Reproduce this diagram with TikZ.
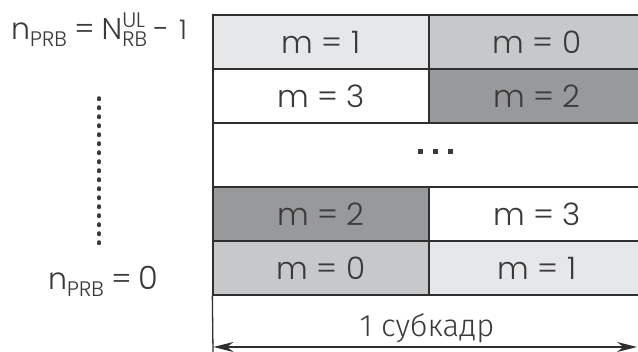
\documentclass[tikz,border=0pt]{standalone}
\usepackage{amsmath}
\usepackage{fontspec}
\setmainfont{Poppins Light}
\newfontfamily\cyrfont{Fira Sans Light}
\usetikzlibrary{arrows.meta,positioning}
\definecolor{celllight}{RGB}{230,231,233}
\definecolor{cellmid}{RGB}{199,200,202}
\definecolor{celldark}{RGB}{152,153,155}
\definecolor{gridline}{RGB}{47,47,47}
\definecolor{labeltext}{RGB}{58,58,58}

\begin{document}
\begin{tikzpicture}[x=1pt,y=-1pt,text=labeltext,
    cell/.style={draw=gridline,line width=1.3pt,minimum width=216pt,minimum height=54pt,inner sep=0pt,font=\fontsize{31}{36}\selectfont},
    sqdot/.style={fill=labeltext,minimum size=5pt,inner sep=0pt},
    prblabel/.style={anchor=base west,inner sep=0pt,font=\fontsize{30}{35}\selectfont}]
  \useasboundingbox (0,0) rectangle (638,352);
  % subframe grid
  \node[cell,fill=celllight] (c11) at (321,42) {m = 1};
  \node[cell,fill=cellmid] (c12) at (537,42) {m = 0};
  \node[cell,fill=white] (c21) at (321,96) {m = 3};
  \node[cell,fill=celldark] (c22) at (537,96) {m = 2};
  \node[cell,fill=white,minimum width=432pt,minimum height=64pt] (gap) at (429,155) {};
  \node[sqdot] (d1) at (420,152) {};
  \node[sqdot] (d2) at (435,152) {};
  \node[sqdot] (d3) at (450,152) {};
  \node[cell,fill=celldark] (c31) at (321,214) {m = 2};
  \node[cell,fill=white] (c32) at (537,214) {m = 3};
  \node[cell,fill=cellmid] (c41) at (321,268) {m = 0};
  \node[cell,fill=celllight] (c42) at (537,268) {m = 1};
  \coordinate (base) at (213,352);
  \draw[gridline,line width=1.3pt] (c41.south west) -- (base);
  % subframe width
  \coordinate (al) at (213.5,347);
  \coordinate (ar) at (637,347);
  \draw[gridline,line width=1.3pt,{Stealth[length=20pt,width=10pt]}-{Stealth[length=20pt,width=10pt]}] (al) -- (ar);
  \node[anchor=base,font=\cyrfont\fontsize{31}{36}\selectfont] (sub) at (427,337) {1 субкадр};
  % PRB index labels
  \node[prblabel] (top) at (11,40)
    {$\text{n}_{\text{PRB}}\hspace{7pt}\text{=}\hspace{7pt}\text{N}^{\text{UL}}_{\text{RB}}\hspace{6pt}\text{-}\hspace{10pt}\text{\fontsize{27}{32}\selectfont 1}$};
  \node[prblabel] (bot) at (48,290)
    {$\text{n}_{\text{PRB}}\hspace{7pt}\text{=}\hspace{7pt}\text{\fontsize{32}{36}\selectfont 0}$};
  \coordinate (dtop) at (99,98);
  \coordinate (dbot) at (99,249);
  \draw[labeltext,line width=3.5pt,line cap=round,dash pattern=on 1.5pt off 7.5pt] (dtop) -- (dbot);
\end{tikzpicture}
\end{document}
